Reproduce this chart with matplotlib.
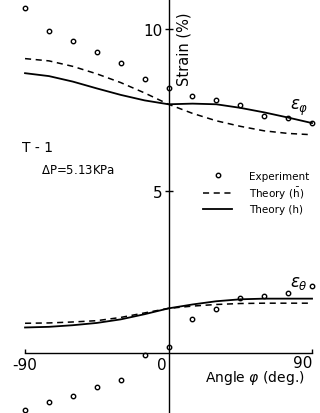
import numpy as np
import matplotlib
matplotlib.use("Agg")
import matplotlib.pyplot as plt

# angles (deg.)
angle = [-90, -75, -60, -45, -30, -15, 0, 15, 30, 45, 60, 75, 90]

# strain eps_phi (%)
exp_phi = [10.64, 9.93, 9.63, 9.28, 8.94, 8.46, 8.18, 7.94, 7.82, 7.65, 7.32, 7.25, 7.09]
hbar_phi = [9.09, 9.02, 8.85, 8.62, 8.35, 8.03, 7.68, 7.40, 7.17, 7.00, 6.86, 6.78, 6.74]
h_phi = [8.64, 8.55, 8.38, 8.17, 7.97, 7.80, 7.68, 7.70, 7.68, 7.57, 7.43, 7.27, 7.10]

# strain eps_theta (%)
exp_th = [-1.75, -1.52, -1.34, -1.04, -0.84, -0.06, 0.18, 1.05, 1.36, 1.70, 1.75, 1.85, 2.08]
hbar_th = [0.92, 0.93, 0.96, 1.00, 1.10, 1.24, 1.38, 1.45, 1.50, 1.53, 1.54, 1.54, 1.54]
h_th = [0.79, 0.81, 0.86, 0.93, 1.04, 1.20, 1.38, 1.50, 1.60, 1.66, 1.68, 1.68, 1.68]

plt.rcParams['font.family'] = ['DejaVu Sans']

fig = plt.figure(figsize=(3.2, 4.14), dpi=100)
ax = fig.add_axes([0, 0, 1, 1])
ax.patch.set_alpha(0)

ax.set_xlim(-105.7, 95.0)
ax.set_ylim(-1.85, 10.93)

ms = 3.2
ax.plot(angle, exp_phi, 'o', mfc='white', mec='black', mew=1.0, ms=ms, label='Experiment')
ax.plot(angle, hbar_phi, color='black', lw=1.1, ls=(0, (4, 3)), label='Theory ($\\mathregular{\\bar{h}}$)')
ax.plot(angle, h_phi, color='black', lw=1.3, label='Theory (h)')
ax.plot(angle, exp_th, 'o', mfc='white', mec='black', mew=1.0, ms=ms)
ax.plot(angle, hbar_th, color='black', lw=1.1, ls=(0, (4, 3)))
ax.plot(angle, h_th, color='black', lw=1.3)

# axes through origin
for s in ['top', 'right']:
    ax.spines[s].set_visible(False)
ax.spines['left'].set_position(('data', 0))
ax.spines['bottom'].set_position(('data', 0))
ax.spines['bottom'].set_bounds(-90, 90)
ax.spines['left'].set_linewidth(1.0)
ax.spines['bottom'].set_linewidth(1.0)

ax.set_yticks([5, 10])
ax.set_yticklabels(['5', '10'], fontsize=11)
ax.tick_params(axis='y', direction='inout', length=6, width=1, pad=1)
ax.set_xticks([-90, 90])
ax.set_xticklabels([])
ax.tick_params(axis='x', direction='in', length=3, width=1)

ax.text(-90, -0.12, '-90', fontsize=11, ha='center', va='top')
ax.text(-1.5, -0.12, '0', fontsize=11, ha='right', va='top')
ax.text(90, -0.05, '90', fontsize=11, ha='right', va='top')
ax.text(54, -0.75, 'Angle $\\varphi$ (deg.)', fontsize=10, ha='center', va='center')

ax.text(9.8, 9.4, 'Strain (%)', fontsize=10.5, rotation=90, ha='center', va='center')

ax.text(82, 7.6, '$\\varepsilon_{\\varphi}$', fontsize=12, ha='center', va='center')
ax.text(82, 2.2, '$\\varepsilon_{\\theta}$', fontsize=12, ha='center', va='center')

ax.text(-92, 6.35, 'T - 1', fontsize=10, ha='left', va='center')
ax.text(-80, 5.66, '$\\Delta$P=5.13KPa', fontsize=8.5, ha='left', va='center')

ax.legend(loc='upper left', bbox_to_anchor=(0.605, 0.607), frameon=False,
          fontsize=7.5, handlelength=2.8, handletextpad=1.6, labelspacing=0.35)

fig.savefig('out.png', dpi=100)
